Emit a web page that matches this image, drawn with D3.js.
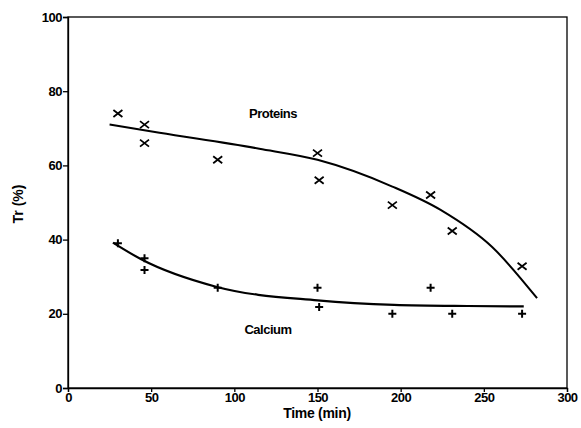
<!DOCTYPE html>
<html><head><meta charset="utf-8">
<script src="https://cdn.jsdelivr.net/npm/d3@7"></script>
<style>body{margin:0;background:#fff}svg text{font-family:"Liberation Sans",Arial,sans-serif;font-weight:bold;fill:#000}</style>
</head><body><svg id="c" width="581" height="428"></svg>
<script>
const xTicks=[0,50,100,150,200,250,300];
const yTicks=[0,20,40,60,80,100];
const proteinTime=[30,46,46,90,150,151,195,218,231,273];
const proteinTr=[74,71,66,61.5,63.3,56,49.3,52,42.3,32.8];
const calciumTime=[30,46,46,90,150,151,195,218,231,273];
const calciumTr=[39,35,31.8,27,27,21.8,20,27,20,20];
const proteinFitTime=[25,55,115,150,195,224,255,282];
const proteinFitTr=[71,68.8,64.5,61.5,54.3,48,38,24.2];
const calciumFitTime=[27,44,89,150,196,240,274];
const calciumFitTr=[39.2,34.7,27.3,23.6,22.4,22.1,22];

const svg=d3.select("#c");
const L=68,R=567,T=17,B=388;
const x=d3.scaleLinear().domain([0,300]).range([L,R]);
const y=d3.scaleLinear().domain([0,100]).range([B,T]);

svg.append("rect").attr("x",L).attr("y",T).attr("width",R-L).attr("height",B-T)
  .attr("fill","none").attr("stroke","#000").attr("stroke-width",1.3);

const xa=svg.append("g").attr("transform",`translate(0,${B})`)
  .call(d3.axisBottom(x).tickValues(xTicks).tickSize(4).tickPadding(1).tickFormat(d3.format("d")));
const ya=svg.append("g").attr("transform",`translate(${L},0)`)
  .call(d3.axisLeft(y).tickValues(yTicks).tickSize(5).tickPadding(1).tickFormat(d3.format("d")));
[xa,ya].forEach(a=>{a.select(".domain").attr("stroke","#000").attr("stroke-width",1.3);
  a.selectAll(".tick line").attr("stroke","#000").attr("stroke-width",1.3);
  a.selectAll("text").attr("font-size",13).attr("font-family","Liberation Sans, Arial, sans-serif").attr("font-weight","bold").attr("fill","#000").attr("letter-spacing","-0.5");});

const line=d3.line().x(d=>x(d[0])).y(d=>y(d[1])).curve(d3.curveMonotoneX);
svg.append("path").datum(d3.zip(proteinFitTime,proteinFitTr)).attr("d",line)
  .attr("fill","none").attr("stroke","#000").attr("stroke-width",2);
svg.append("path").datum(d3.zip(calciumFitTime,calciumFitTr)).attr("d",line)
  .attr("fill","none").attr("stroke","#000").attr("stroke-width",2.2);

const pg=svg.append("g").attr("stroke","#000").attr("stroke-width",1.8);
d3.zip(proteinTime,proteinTr).forEach(d=>{
  const cx=x(d[0]),cy=y(d[1]);
  pg.append("path").attr("d",`M${cx-4.5},${cy-3.5}L${cx+4.5},${cy+3.5}M${cx-4.5},${cy+3.5}L${cx+4.5},${cy-3.5}`);
});
const cg=svg.append("g").attr("stroke","#000").attr("stroke-width",2);
d3.zip(calciumTime,calciumTr).forEach(d=>{
  const cx=x(d[0]),cy=y(d[1]);
  cg.append("path").attr("d",`M${cx-4},${cy}L${cx+4},${cy}M${cx},${cy-4}L${cx},${cy+4}`);
});

svg.append("text").attr("x",273).attr("y",118).attr("text-anchor","middle").attr("font-size",13).attr("letter-spacing","-0.5").text("Proteins");
svg.append("text").attr("x",268).attr("y",334).attr("text-anchor","middle").attr("font-size",13).attr("letter-spacing","-0.5").text("Calcium");
svg.append("text").attr("x",317).attr("y",418).attr("text-anchor","middle").attr("font-size",14).attr("letter-spacing","-0.3").text("Time (min)");
svg.append("text").attr("transform","translate(23,204) rotate(-90)").attr("text-anchor","middle").attr("font-size",14).text("Tr (%)");
</script></body></html>
